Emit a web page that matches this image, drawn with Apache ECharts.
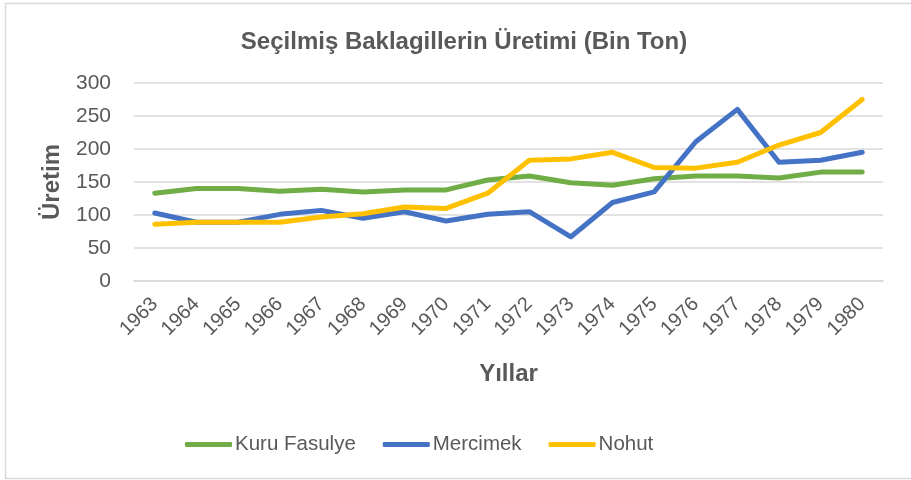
<!DOCTYPE html>
<html>
<head>
<meta charset="utf-8">
<script src="https://cdn.jsdelivr.net/npm/echarts@6/dist/echarts.min.js"></script>
<style>
  html, body { margin: 0; padding: 0; background: #fff; }
  #chart { width: 911px; height: 480px; }
</style>
</head>
<body>
<div id="chart"></div>
<script>
// yıllar ve üretim değerleri (bin ton)
const years = ["1963", "1964", "1965", "1966", "1967", "1968", "1969", "1970", "1971",
  "1972", "1973", "1974", "1975", "1976", "1977", "1978", "1979", "1980"];
const kuruFasulye = [133, 140, 140, 136, 139, 135, 138, 138, 153, 159, 149, 145, 155, 159, 159, 156, 165, 165];
const mercimek = [103, 89, 89, 101, 107, 95, 105, 91, 101, 105, 67, 119, 135, 211, 260, 180, 183, 195];
const nohut = [86, 89, 89, 89, 97, 102, 112, 110, 133, 183, 185, 195, 172, 171, 180, 206, 225, 275];
const yTicks = [0, 50, 100, 150, 200, 250, 300];

const textColor = "#595959";
const font = "Liberation Sans";

const chart = echarts.init(document.getElementById("chart"));

const makeSeries = (name, data, color) => ({
  name: name,
  type: "line",
  data: data,
  symbol: "none",
  smooth: false,
  itemStyle: { color: color },
  lineStyle: { color: color, width: 5, cap: "round", join: "round" },
});

chart.setOption({
  animation: false,
  backgroundColor: "#fff",
  textStyle: { fontFamily: font, color: textColor },
  graphic: [
    {
      type: "rect",
      shape: { x: 5.5, y: 3.5, width: 920, height: 475 },
      style: { fill: "none", stroke: "#d9d9d9", lineWidth: 1.5 },
      silent: true,
    },
  ],
  title: {
    text: "Seçilmiş Baklagillerin Üretimi (Bin Ton)",
    left: 459,
    textAlign: "center",
    top: 25,
    textStyle: { fontFamily: font, fontSize: 24, fontWeight: "bold", color: textColor },
  },
  legend: {
    top: 429,
    left: 180,
    itemWidth: 47,
    itemHeight: 5,
    itemGap: 27,
    icon: "roundRect",
    textStyle: { fontFamily: font, fontSize: 20.5, color: textColor, padding: [0, 0, 0, -2] },
    data: ["Kuru Fasulye", "Mercimek", "Nohut"],
  },
  grid: { left: 134, right: 28, top: 83, bottom: 199 },
  xAxis: {
    type: "category",
    data: years,
    boundaryGap: true,
    name: "Yıllar",
    nameLocation: "middle",
    nameGap: 81,
    nameTextStyle: { fontFamily: font, fontSize: 24, fontWeight: "bold", color: textColor },
    axisLine: { show: true, lineStyle: { color: "#d9d9d9", width: 1.5 } },
    axisTick: { show: false },
    axisLabel: { rotate: 45, fontSize: 20, color: textColor, margin: 20, fontFamily: font },
  },
  yAxis: {
    type: "value",
    min: yTicks[0],
    max: yTicks[yTicks.length - 1],
    interval: 50,
    name: "Üretim",
    nameLocation: "middle",
    nameGap: 70,
    nameTextStyle: { fontFamily: font, fontSize: 24, fontWeight: "bold", color: textColor },
    axisLine: { show: false },
    axisTick: { show: false },
    axisLabel: { fontSize: 21, color: textColor, margin: 23, fontFamily: font },
    splitLine: { lineStyle: { color: "#d9d9d9", width: 1.5 } },
  },
  series: [
    makeSeries("Kuru Fasulye", kuruFasulye, "#70AD47"),
    makeSeries("Mercimek", mercimek, "#4472C4"),
    makeSeries("Nohut", nohut, "#FFC000"),
  ],
});
</script>
</body>
</html>
